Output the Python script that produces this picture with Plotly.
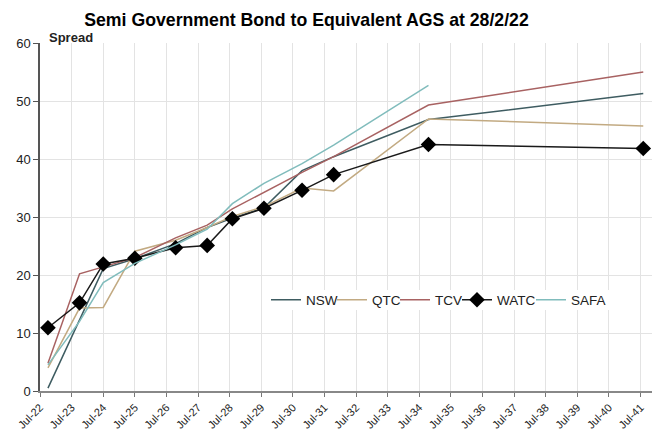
import plotly.graph_objects as go

dates = ["2022-10-01", "2023-10-01", "2024-07-01", "2025-07-01", "2026-10-15", "2027-10-15",
         "2028-08-01", "2029-08-01", "2030-10-15", "2031-10-15", "2034-10-15", "2041-08-01"]

NSW = [0.5, 12.4, 21.1, 22.8, 25.4, 28.2, 29.8, 31.6, 38.0, 40.4, 46.8, 51.3]
QTC = [4.0, 14.3, 14.4, 24.1, 26.0, 28.2, 30.1, 31.8, 35.0, 34.5, 46.9, 45.7]
TCV = [4.8, 20.2, 21.4, 23.0, 26.4, 28.6, 31.4, 34.3, 37.7, 40.4, 49.3, 55.0]
WATC = [10.9, 15.2, 21.9, 22.9, 24.7, 25.1, 29.7, 31.5, 34.6, 37.3, 42.5, 41.8]
SAFA = [4.5, 12.0, 18.7, 22.0, 25.2, 27.9, 32.3, 35.8, 39.2, 42.4, 52.7, None]

FONT = "Arial, Liberation Sans, sans-serif"

# plot area in pixels
L, R, T, B = 40, 652, 43, 391
PW, PH = R - L, B - T


def px_x(x):
    return (x - L) / PW


def px_y(y):
    return (B - y) / PH


fig = go.Figure()
fig.add_trace(go.Scatter(x=dates, y=NSW, name="NSW", mode="lines", legend="legend",
                         line=dict(color="#3e5c61", width=1.5)))
fig.add_trace(go.Scatter(x=dates, y=QTC, name="QTC", mode="lines", legend="legend2",
                         line=dict(color="#c2aa82", width=1.5)))
fig.add_trace(go.Scatter(x=dates, y=TCV, name="TCV", mode="lines", legend="legend3",
                         line=dict(color="#a86262", width=1.5)))
fig.add_trace(go.Scatter(x=dates, y=WATC, name="WATC", mode="lines+markers", legend="legend4",
                         line=dict(color="#1a1a1a", width=1.5),
                         marker=dict(symbol="diamond", size=12, color="black")))
fig.add_trace(go.Scatter(x=dates, y=SAFA, name="SAFA", mode="lines", legend="legend5",
                         line=dict(color="#80bcbc", width=1.5)))

leg_font = dict(family=FONT, size=13.5, color="#222")
text_starts = [308, 374, 437, 499, 573]
legends = {}
for i, tx in enumerate(text_starts):
    key = "legend" if i == 0 else f"legend{i + 1}"
    legends[key] = dict(orientation="h", x=px_x(tx - 42), xanchor="left",
                        y=px_y(300), yanchor="middle", bgcolor="rgba(255,255,255,0)",
                        font=leg_font, itemwidth=30, borderwidth=0)

fig.update_layout(
    width=653, height=430,
    margin=dict(l=L, r=653 - R, t=T, b=430 - B, autoexpand=False),
    paper_bgcolor="white", plot_bgcolor="white",
    font=dict(family=FONT, size=13, color="#222"),
    title=dict(text="<b>Semi Government Bond to Equivalent AGS at 28/2/22</b>",
               x=306.5 / 653, xanchor="center", xref="container",
               y=1 - 20 / 430, yanchor="middle", yref="container",
               font=dict(family=FONT, size=17.7, color="black")),
    showlegend=True,
    xaxis=dict(type="date", range=["2022-07-01", "2041-11-10"], automargin=False,
               tick0="2022-07-01", dtick="M12", tickformat="%b-%y",
               tickangle=-45, ticks="outside", ticklen=4, tickcolor="#777",
               showgrid=True, gridcolor="#e3e3e3", gridwidth=1,
               showline=True, linecolor="#888", linewidth=1.5,
               tickfont=dict(family=FONT, size=11, color="#222"), zeroline=False),
    yaxis=dict(range=[0, 60], dtick=10, ticks="outside", ticklen=5, tickcolor="#555",
               automargin=False,
               showgrid=True, gridcolor="#e3e3e3", gridwidth=1,
               showline=True, linecolor="#555", linewidth=1.5,
               tickfont=dict(family=FONT, size=13, color="#222"), zeroline=False),
    annotations=[dict(text="<b>Spread</b>", x=px_x(47), y=px_y(37),
                      xref="paper", yref="paper", xanchor="left", yanchor="middle",
                      showarrow=False, font=dict(family=FONT, size=13, color="#222"))],
    shapes=[dict(type="rect", xref="paper", yref="paper", layer="above",
                 x0=px_x(270), x1=px_x(614), y0=px_y(310), y1=px_y(290),
                 fillcolor="white", line=dict(width=0))],
    **legends,
)

fig.write_html("out.html", config={"displayModeBar": False},
               post_script="document.body.style.margin='0';document.body.style.overflow='hidden';")
